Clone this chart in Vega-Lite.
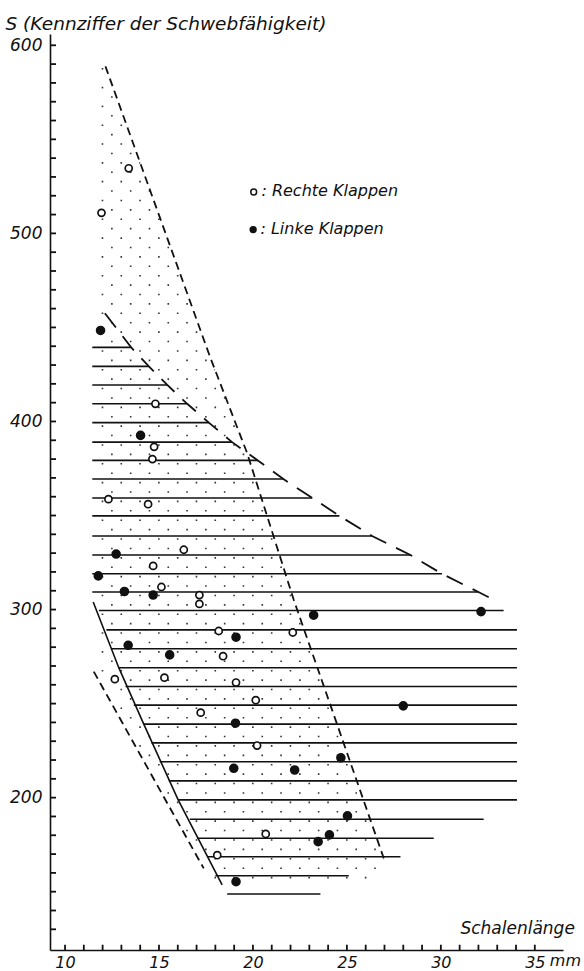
{
  "$schema": "https://vega.github.io/schema/vega-lite/v6.json",
  "width": 513,
  "height": 916,
  "padding": {"left": 50, "top": 34, "right": 21, "bottom": 21},
  "autosize": {"type": "none"},
  "background": "white",
  "config": {
    "view": {"stroke": null},
    "font": "DejaVu Sans",
    "axis": {"grid": false, "zindex": 1, "domainColor": "#111", "domainWidth": 1.6, "labelColor": "#111", "labelFont": "DejaVu Sans", "labelFontStyle": "italic", "labelFontSize": 17, "titleColor": "#111", "labelFlush": false, "labelOverlap": false}
  },
  "resolve": {"axis": {"x": "independent", "y": "independent"}},
  "datasets": {
    "yticks": [{"y":130,"x":9.2,"x2":9.52},{"y":140,"x":9.2,"x2":9.52},{"y":150,"x":9.2,"x2":9.52},{"y":160,"x":9.2,"x2":9.52},{"y":170,"x":9.2,"x2":9.52},{"y":180,"x":9.2,"x2":9.52},{"y":190,"x":9.2,"x2":9.52},{"y":200,"x":9.2,"x2":9.52},{"y":210,"x":9.2,"x2":9.52},{"y":220,"x":9.2,"x2":9.52},{"y":230,"x":9.2,"x2":9.52},{"y":240,"x":9.2,"x2":9.52},{"y":250,"x":9.2,"x2":9.52},{"y":260,"x":9.2,"x2":9.52},{"y":270,"x":9.2,"x2":9.52},{"y":280,"x":9.2,"x2":9.52},{"y":290,"x":9.2,"x2":9.52},{"y":300,"x":9.2,"x2":9.52},{"y":310,"x":9.2,"x2":9.52},{"y":320,"x":9.2,"x2":9.52},{"y":330,"x":9.2,"x2":9.52},{"y":340,"x":9.2,"x2":9.52},{"y":350,"x":9.2,"x2":9.52},{"y":360,"x":9.2,"x2":9.52},{"y":370,"x":9.2,"x2":9.52},{"y":380,"x":9.2,"x2":9.52},{"y":390,"x":9.2,"x2":9.52},{"y":400,"x":9.2,"x2":9.52},{"y":410,"x":9.2,"x2":9.52},{"y":420,"x":9.2,"x2":9.52},{"y":430,"x":9.2,"x2":9.52},{"y":440,"x":9.2,"x2":9.52},{"y":450,"x":9.2,"x2":9.52},{"y":460,"x":9.2,"x2":9.52},{"y":470,"x":9.2,"x2":9.52},{"y":480,"x":9.2,"x2":9.52},{"y":490,"x":9.2,"x2":9.52},{"y":500,"x":9.2,"x2":9.52},{"y":510,"x":9.2,"x2":9.52},{"y":520,"x":9.2,"x2":9.52},{"y":530,"x":9.2,"x2":9.52},{"y":540,"x":9.2,"x2":9.52},{"y":550,"x":9.2,"x2":9.52},{"y":560,"x":9.2,"x2":9.52},{"y":570,"x":9.2,"x2":9.52},{"y":580,"x":9.2,"x2":9.52},{"y":590,"x":9.2,"x2":9.52},{"y":600,"x":9.2,"x2":9.52}],
    "xticks": [{"x":10,"y":119,"y2":121.8},{"x":11,"y":119,"y2":121.8},{"x":12,"y":119,"y2":121.8},{"x":13,"y":119,"y2":121.8},{"x":14,"y":119,"y2":121.8},{"x":15,"y":119,"y2":121.8},{"x":16,"y":119,"y2":121.8},{"x":17,"y":119,"y2":121.8},{"x":18,"y":119,"y2":121.8},{"x":19,"y":119,"y2":121.8},{"x":20,"y":119,"y2":121.8},{"x":21,"y":119,"y2":121.8},{"x":22,"y":119,"y2":121.8},{"x":23,"y":119,"y2":121.8},{"x":24,"y":119,"y2":121.8},{"x":25,"y":119,"y2":121.8},{"x":26,"y":119,"y2":121.8},{"x":27,"y":119,"y2":121.8},{"x":28,"y":119,"y2":121.8},{"x":29,"y":119,"y2":121.8},{"x":30,"y":119,"y2":121.8},{"x":31,"y":119,"y2":121.8},{"x":32,"y":119,"y2":121.8},{"x":33,"y":119,"y2":121.8},{"x":34,"y":119,"y2":121.8},{"x":35,"y":119,"y2":121.8}],
    "dots": [
      {"y":587.5,"x":11.95,"x2":12.2},{"y":577.5,"x":11.95,"x2":12.56},{"y":572.5,"x":12.45,"x2":12.74},{"y":567.5,"x":11.95,"x2":12.92},{"y":562.5,"x":12.45,"x2":13.1},{"y":557.5,"x":11.95,"x2":13.28},{"y":552.5,"x":12.45,"x2":13.46},{"y":547.5,"x":11.95,"x2":13.64},{"y":542.5,"x":12.45,"x2":13.82},{"y":537.5,"x":11.95,"x2":14.0},{"y":532.5,"x":12.45,"x2":14.18},{"y":527.5,"x":11.95,"x2":14.36},{"y":522.5,"x":12.45,"x2":14.54},{"y":517.5,"x":11.95,"x2":14.72},{"y":512.5,"x":12.45,"x2":14.9},{"y":507.5,"x":11.95,"x2":15.08},{"y":502.5,"x":12.45,"x2":15.26},{"y":497.5,"x":11.95,"x2":15.44},{"y":492.5,"x":12.45,"x2":15.62},{"y":487.5,"x":11.95,"x2":15.8},{"y":482.5,"x":12.45,"x2":15.98},{"y":477.5,"x":11.95,"x2":16.16},{"y":472.5,"x":12.45,"x2":16.34},{"y":467.5,"x":11.95,"x2":16.52},{"y":462.5,"x":12.45,"x2":16.7},{"y":457.5,"x":11.95,"x2":16.88},{"y":452.5,"x":12.45,"x2":17.06},{"y":447.5,"x":11.95,"x2":17.24},{"y":442.5,"x":12.45,"x2":17.42},{"y":437.5,"x":11.95,"x2":17.6},{"y":432.5,"x":12.45,"x2":17.79},{"y":427.5,"x":11.95,"x2":17.98},{"y":422.5,"x":12.45,"x2":18.17},{"y":417.5,"x":11.95,"x2":18.37},{"y":412.5,"x":12.45,"x2":18.56},{"y":407.5,"x":11.95,"x2":18.75},{"y":402.5,"x":12.45,"x2":18.94},{"y":397.5,"x":11.95,"x2":19.14},{"y":392.5,"x":12.45,"x2":19.33},{"y":387.5,"x":11.95,"x2":19.52},{"y":382.5,"x":12.45,"x2":19.71},{"y":377.5,"x":11.95,"x2":19.87},{"y":372.5,"x":12.45,"x2":20.03},{"y":367.5,"x":11.95,"x2":20.19},{"y":362.5,"x":12.45,"x2":20.35},{"y":357.5,"x":11.95,"x2":20.51},{"y":352.5,"x":12.45,"x2":20.67},{"y":347.5,"x":11.95,"x2":20.82},{"y":342.5,"x":12.45,"x2":20.98},{"y":337.5,"x":11.95,"x2":21.14},{"y":332.5,"x":12.45,"x2":21.3},{"y":327.5,"x":11.95,"x2":21.46},{"y":322.5,"x":12.45,"x2":21.62},{"y":317.5,"x":11.95,"x2":21.78},{"y":312.5,"x":12.45,"x2":21.94},{"y":307.5,"x":11.95,"x2":22.1},{"y":302.5,"x":12.45,"x2":22.26},{"y":297.5,"x":11.95,"x2":22.44},{"y":292.5,"x":12.45,"x2":22.61},{"y":287.5,"x":11.95,"x2":22.79},{"y":282.5,"x":12.45,"x2":22.96},{"y":277.5,"x":11.95,"x2":23.14},{"y":272.5,"x":12.45,"x2":23.31},{"y":267.5,"x":11.95,"x2":23.48},{"y":262.5,"x":12.45,"x2":23.66},{"y":257.5,"x":12.95,"x2":23.83},{"y":252.5,"x":13.45,"x2":24.01},{"y":247.5,"x":12.95,"x2":24.18},{"y":242.5,"x":13.45,"x2":24.36},{"y":237.5,"x":13.95,"x2":24.53},{"y":232.5,"x":14.45,"x2":24.7},{"y":227.5,"x":13.95,"x2":24.88},{"y":222.5,"x":14.45,"x2":25.05},{"y":217.5,"x":14.95,"x2":25.23},{"y":212.5,"x":15.45,"x2":25.4},{"y":207.5,"x":15.95,"x2":25.58},{"y":202.5,"x":15.45,"x2":25.75},{"y":197.5,"x":15.95,"x2":25.92},{"y":192.5,"x":16.45,"x2":26.1},{"y":187.5,"x":16.95,"x2":26.27},{"y":182.5,"x":16.45,"x2":26.45},{"y":177.5,"x":16.95,"x2":26.62},{"y":172.5,"x":17.45,"x2":26.8},{"y":167.5,"x":17.95,"x2":26.97},{"y":162.5,"x":18.45,"x2":26.8},{"y":157.5,"x":17.95,"x2":26.6}
    ],
    "hatch": [
      {"y":439.4,"x":11.45,"x2":13.52},{"y":429.3,"x":11.45,"x2":14.46},{"y":419.4,"x":11.45,"x2":15.44},{"y":409.4,"x":11.45,"x2":16.5},{"y":399.4,"x":11.45,"x2":17.65},{"y":389.0,"x":11.45,"x2":18.89},{"y":379.3,"x":11.45,"x2":20.26},{"y":369.4,"x":11.45,"x2":21.62},{"y":359.3,"x":11.45,"x2":23.16},{"y":349.8,"x":11.45,"x2":24.6},{"y":339.1,"x":11.45,"x2":26.34},{"y":329.0,"x":11.45,"x2":28.38},{"y":319.0,"x":11.45,"x2":30.06},{"y":309.3,"x":11.45,"x2":32.0},{"y":299.5,"x":11.8,"x2":33.34},{"y":289.2,"x":12.2,"x2":34.05},{"y":279.2,"x":12.5,"x2":34.05},{"y":269.1,"x":12.86,"x2":34.05},{"y":259.1,"x":13.22,"x2":34.05},{"y":249.2,"x":13.66,"x2":34.05},{"y":239.1,"x":14.19,"x2":34.05},{"y":229.1,"x":14.6,"x2":34.05},{"y":219.1,"x":15.04,"x2":34.05},{"y":208.9,"x":15.52,"x2":34.05},{"y":198.8,"x":16.02,"x2":34.05},{"y":188.5,"x":16.64,"x2":32.28},{"y":178.4,"x":17.03,"x2":29.62},{"y":168.6,"x":17.56,"x2":27.85},{"y":158.5,"x":18.0,"x2":25.1},{"y":148.8,"x":18.63,"x2":23.59}
    ],
    "dashSmall": [
      {"g":"r","o":1,"x":12.15,"y":588.8},{"g":"r","o":2,"x":17.74,"y":433.7},{"g":"r","o":3,"x":19.69,"y":383.2},{"g":"r","o":4,"x":22.17,"y":305.2},{"g":"r","o":5,"x":26.96,"y":167.8},
      {"g":"l","o":1,"x":11.53,"y":267.0},{"g":"l","o":2,"x":17.38,"y":162.4}
    ],
    "dashLong": [
      {"o":1,"x":12.12,"y":457.5},{"o":2,"x":13.52,"y":439.4},{"o":3,"x":14.46,"y":429.3},{"o":4,"x":15.44,"y":419.4},{"o":5,"x":16.5,"y":409.4},{"o":6,"x":17.65,"y":399.4},{"o":7,"x":18.89,"y":389.0},{"o":8,"x":20.26,"y":379.3},{"o":9,"x":21.62,"y":369.4},{"o":10,"x":23.16,"y":359.3},{"o":11,"x":24.6,"y":349.8},{"o":12,"x":26.34,"y":339.1},{"o":13,"x":28.38,"y":329.0},{"o":14,"x":30.06,"y":319.0},{"o":15,"x":32.0,"y":309.3},{"o":16,"x":33.0,"y":304.3}
    ],
    "solid": [
      {"o":1,"x":11.5,"y":304.0},{"o":2,"x":12.86,"y":269.1},{"o":3,"x":14.19,"y":239.1},{"o":4,"x":16.02,"y":198.8},{"o":5,"x":18.36,"y":153.6}
    ],
    "points": [
      {"k":"R","x":13.39,"y":534.6},{"k":"R","x":11.94,"y":510.9},{"k":"R","x":14.81,"y":409.4},{"k":"R","x":14.74,"y":386.5},{"k":"R","x":14.65,"y":380.0},{"k":"R","x":12.31,"y":358.7},{"k":"R","x":14.42,"y":356.0},{"k":"R","x":16.32,"y":331.8},{"k":"R","x":14.69,"y":323.2},{"k":"R","x":15.13,"y":312.0},{"k":"R","x":17.15,"y":307.7},{"k":"R","x":17.15,"y":303.0},{"k":"R","x":18.18,"y":288.6},{"k":"R","x":22.12,"y":287.8},{"k":"R","x":18.41,"y":275.2},{"k":"R","x":12.65,"y":263.0},{"k":"R","x":15.29,"y":263.8},{"k":"R","x":19.1,"y":261.2},{"k":"R","x":20.15,"y":251.8},{"k":"R","x":17.22,"y":245.2},{"k":"R","x":20.22,"y":227.7},{"k":"R","x":20.68,"y":180.7},{"k":"R","x":18.1,"y":169.4},
      {"k":"L","x":11.89,"y":448.4},{"k":"L","x":14.02,"y":392.6},{"k":"L","x":12.72,"y":329.5},{"k":"L","x":11.77,"y":317.9},{"k":"L","x":13.16,"y":309.6},{"k":"L","x":14.69,"y":307.7},{"k":"L","x":23.23,"y":297.0},{"k":"L","x":32.14,"y":298.9},{"k":"L","x":19.1,"y":285.3},{"k":"L","x":13.36,"y":281.0},{"k":"L","x":15.57,"y":275.9},{"k":"L","x":28.0,"y":248.8},{"k":"L","x":19.07,"y":239.6},{"k":"L","x":18.98,"y":215.6},{"k":"L","x":22.22,"y":214.7},{"k":"L","x":24.68,"y":221.2},{"k":"L","x":25.03,"y":190.3},{"k":"L","x":24.07,"y":180.2},{"k":"L","x":23.47,"y":176.6},{"k":"L","x":19.1,"y":155.3}
    ],
    "legendPts": [
      {"k":"R","x":20.04,"y":522.0},{"k":"L","x":20.01,"y":502.0}
    ],
    "legendText": [
      {"x":20.45,"y":519.7,"t":": Rechte Klappen"},{"x":20.4,"y":499.8,"t":": Linke Klappen"}
    ],
    "unitText": [
      {"x":35.8,"y":110.3,"t":"mm"}
    ],
    "axisText": [
      {"x":37.13,"y":127.3,"t":"Schalenlänge"}
    ]
  },
  "encoding": {
    "x": {"field": "x", "type": "quantitative", "scale": {"domain": [9.2, 36.5], "nice": false, "zero": false}, "axis": null},
    "y": {"field": "y", "type": "quantitative", "scale": {"domain": [119, 606], "nice": false, "zero": false}, "axis": null}
  },
  "layer": [
    {"data": {"name": "dots"}, "mark": {"type": "rule", "strokeDash": [1.6, 17.2], "strokeWidth": 1.6, "color": "#333", "strokeCap": "butt"},
      "encoding": {
        "x": {"field": "x", "type": "quantitative", "scale": {"domain": [9.2, 36.5], "nice": false, "zero": false},
          "axis": {"values": [10,15,20,25,30,35], "ticks": false, "labelPadding": 4, "labelFontSize": 16, "title": null}},
        "y": {"field": "y", "type": "quantitative", "scale": {"domain": [119, 606], "nice": false, "zero": false},
          "axis": {"values": [200,300,400,500,600], "ticks": false, "labelPadding": 8, "title": "S (Kennziffer der Schwebfähigkeit)", "titleAngle": 0, "titleAlign": "left", "titleBaseline": "alphabetic", "titleX": -45, "titleY": -5, "titleFontStyle": "italic", "titleFontWeight": "normal", "titleFontSize": 18.5}},
        "x2": {"field": "x2"}}},
    {"data": {"name": "yticks"}, "mark": {"type": "rule", "strokeWidth": 1.8, "color": "#111"}, "encoding": {"x2": {"field": "x2"}}},
    {"data": {"name": "xticks"}, "mark": {"type": "rule", "strokeWidth": 1.8, "color": "#111"}, "encoding": {"y2": {"field": "y2"}}},
    {"data": {"name": "hatch"}, "mark": {"type": "rule", "strokeWidth": 1.6, "color": "#111"}, "encoding": {"x2": {"field": "x2"}}},
    {"data": {"name": "dashSmall"}, "mark": {"type": "line", "strokeDash": [8, 5], "strokeWidth": 1.8, "color": "#111"}, "encoding": {"detail": {"field": "g"}, "order": {"field": "o"}}},
    {"data": {"name": "dashLong"}, "mark": {"type": "line", "strokeDash": [18, 11], "strokeWidth": 1.8, "color": "#111"}, "encoding": {"order": {"field": "o"}}},
    {"data": {"name": "solid"}, "mark": {"type": "line", "strokeWidth": 1.6, "color": "#111"}, "encoding": {"order": {"field": "o"}}},
    {"data": {"name": "points"}, "mark": {"type": "circle", "stroke": "#111", "strokeWidth": 1.7, "opacity": 1},
      "encoding": {
        "fill": {"field": "k", "type": "nominal", "scale": {"domain": ["L", "R"], "range": ["#111", "#ffffff"]}, "legend": null},
        "size": {"field": "k", "type": "nominal", "scale": {"domain": ["L", "R"], "range": [62, 50]}, "legend": null}}},
    {"data": {"name": "legendPts"}, "mark": {"type": "circle", "stroke": "#111", "strokeWidth": 1.5, "opacity": 1, "size": 34},
      "encoding": {"fill": {"field": "k", "type": "nominal", "legend": null}}},
    {"data": {"name": "legendText"}, "mark": {"type": "text", "align": "left", "baseline": "alphabetic", "fontSize": 16, "fontStyle": "italic", "color": "#111"}, "encoding": {"text": {"field": "t"}}},
    {"data": {"name": "unitText"}, "mark": {"type": "text", "align": "left", "baseline": "alphabetic", "fontSize": 16, "fontStyle": "italic", "color": "#111"}, "encoding": {"text": {"field": "t"}}},
    {"data": {"name": "axisText"}, "mark": {"type": "text", "align": "right", "baseline": "alphabetic", "fontSize": 17, "fontStyle": "italic", "color": "#111"}, "encoding": {"text": {"field": "t"}}}
  ]
}
